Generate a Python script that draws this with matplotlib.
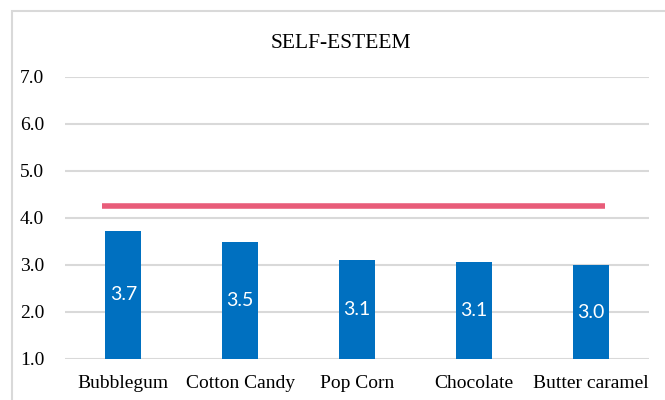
import matplotlib
matplotlib.use("Agg")
import numpy as np
from matplotlib import pyplot as plt
from matplotlib.patches import Rectangle

flavours = ["Bubblegum", "Cotton Candy", "Pop Corn", "Chocolate", "Butter caramel"]
scores = [3.72, 3.48, 3.11, 3.07, 2.99]
reference_level = 4.26
y_ticks = [1.0, 2.0, 3.0, 4.0, 5.0, 6.0, 7.0]

bar_color = "#0070c0"
line_color = "#e85c79"
grid_color = "#d9d9d9"

plt.rcParams["font.family"] = ["Liberation Serif", "DejaVu Serif"]

fig = plt.figure(figsize=(6.65, 4.0), dpi=100)
ax = fig.add_axes([0.0977, 0.103, 0.8783, 0.705])

x = np.arange(len(flavours))
bars = ax.bar(x, scores, width=0.31, bottom=0, color=bar_color, zorder=3)

# value labels centred inside each bar
for xi, v in zip(x, scores):
    ax.text(xi, (v + 1.0) / 2, "%.1f" % v, ha="center", va="center",
            color="white", fontsize=14, family=["Lato", "DejaVu Sans"], zorder=4)

ax.hlines(reference_level, -0.18, 4.12, color=line_color, lw=4, zorder=4)

ax.set_xlim(-0.5, len(flavours) - 0.5)
ax.set_ylim(1.0, 7.0)
ax.set_yticks(y_ticks)
ax.set_yticklabels(["%.1f" % t for t in y_ticks])
ax.set_xticks(x)
ax.set_xticklabels(flavours)
ax.tick_params(axis="both", length=0, labelsize=14, colors="black")
ax.tick_params(axis="y", pad=15)
ax.tick_params(axis="x", pad=12)

ax.yaxis.grid(True, color=grid_color, lw=1.5, zorder=0)
ax.set_axisbelow(True)
for s in ax.spines.values():
    s.set_visible(False)

fig.text(0.513, 0.8925, "SELF-ESTEEM", ha="center", va="center", fontsize=15.5, color="black")

# light chart-area border
fig.patches.append(Rectangle((0.0175, -0.1), 1.2, 1.0725, transform=fig.transFigure,
                             fill=False, edgecolor=grid_color, lw=1.5))

fig.savefig("out.png", dpi=100)
